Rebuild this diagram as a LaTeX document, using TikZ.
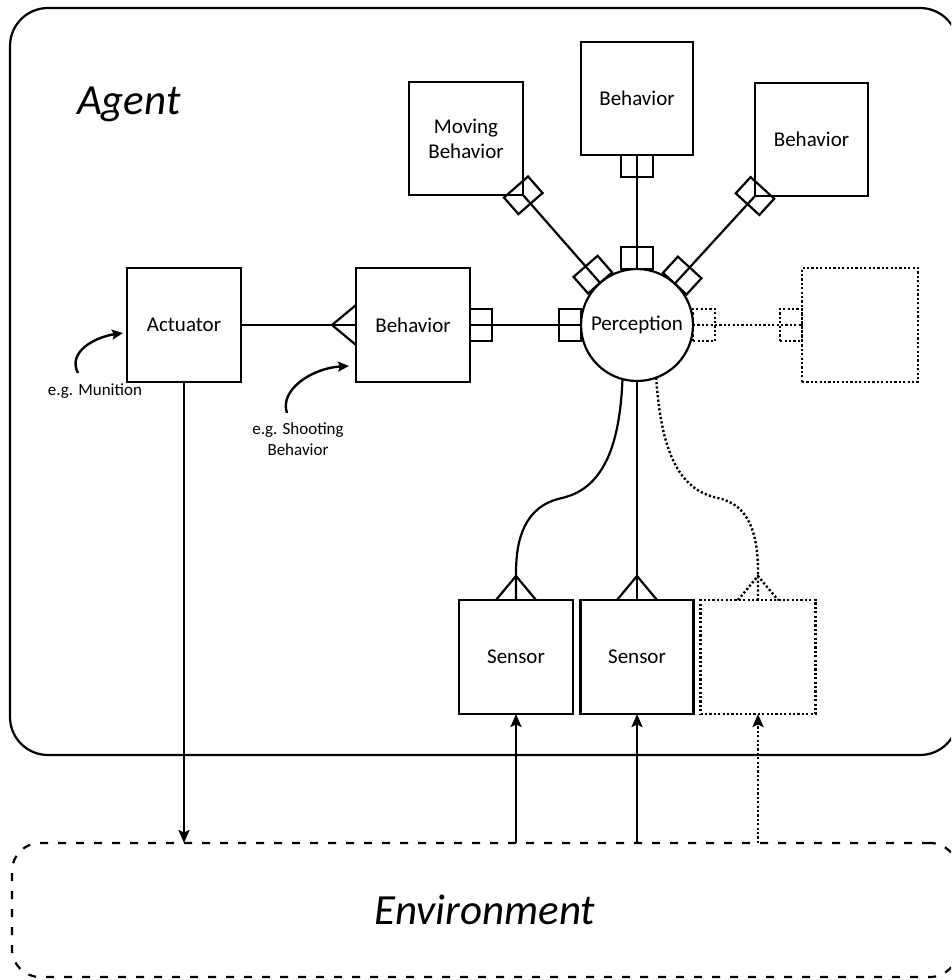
\documentclass[tikz,border=0pt]{standalone}
\usepackage{fontspec}
\setmainfont{Carlito}
\usetikzlibrary{arrows.meta,calc,decorations.markings}

\begin{document}
\begin{tikzpicture}[x=1pt,y=-1pt,
  every node/.style={inner sep=0pt, outer sep=0pt},
  wire/.style={line width=2.2pt},
  dots/.style={line width=2.4pt, dash pattern=on 2.2pt off 2.2pt},
  bodytext/.style={font=\fontsize{21}{25}\selectfont, align=center},
  notetext/.style={font=\fontsize{17}{21}\selectfont, align=center},
  bigtext/.style={font=\fontsize{43}{50}\selectfont\itshape},
  box/.style={draw, wire, bodytext, minimum width=114pt, minimum height=114pt},
  dotbox/.style={box, dots},
  hub/.style={draw, wire, bodytext, circle, minimum size=112pt},
  arr/.style={-{Stealth[length=13pt,width=11pt,inset=2.5pt]}},
  notearr/.style={line width=2.4pt, -{Stealth[length=11pt,width=10pt,inset=2pt]}},
  % connector end markers: a bar box across the line
  startbar/.style={postaction={decorate, decoration={markings,
      mark=at position 11pt with {\draw (-11pt,-16pt) rectangle (11pt,16pt);}}}},
  endbar/.style={postaction={decorate, decoration={markings,
      mark=at position -11pt with {\draw (-11pt,-16pt) rectangle (11pt,16pt);}}}},
  cornerbar/.style={postaction={decorate, decoration={markings,
      mark=at position 1 with {\draw (-11pt,-16pt) rectangle (11pt,16pt);}}}},
  crowfoot/.style={postaction={decorate, decoration={markings,
      mark=at position -24pt with {\draw (24pt,-20pt) -- (0pt,0pt) -- (24pt,20pt);}}}},
]
\useasboundingbox (0,0) rectangle (951,980);
\clip (0,0) rectangle (951,980);

% containers
\node[draw, wire, rounded corners=38pt, minimum width=948pt, minimum height=747pt] (agent) at (484,381.5) {};
\node[bigtext, anchor=base west] (agentlabel) at (77,114) {Agent};
\node[draw, line width=2.2pt, dash pattern=on 8pt off 10pt, rounded corners=28pt,
      minimum width=946pt, minimum height=134pt, bigtext] (env) at (485,910) {Environment};

% behaviours around the perception hub
\node[box, minimum height=113pt] (mb) at (466,138.5) {Moving\\Behavior};
\node[box, minimum width=112pt, minimum height=113pt] (tb) at (637,98.5) {Behavior};
\node[box, minimum width=113pt, minimum height=113pt] (rb) at (811.5,139.5) {Behavior};

\node[box] (act) at (184,325) {Actuator};
\node[box] (beh) at (413,325) {Behavior};
\node[hub] (perc) at (637,325) {Perception};
\node[dotbox, minimum width=116pt] (db) at (860,325) {};

% sensors
\node[box] (s1) at (516,657) {Sensor};
\node[box, minimum width=113pt] (s2) at (637,657) {Sensor};
\node[dotbox, minimum width=115pt] (s3) at (758,657) {};

% notes
\node[notetext] (mun) at (95,391) {e.g. Munition};
\node[notetext] (shoot) at (298,439) {e.g. Shooting\\Behavior};
\coordinate (munTail) at (78,373);
\coordinate (munHead) at (123,333);
\coordinate (shootTail) at (287,413);
\coordinate (shootHead) at (349,366);
\draw[notearr] (munTail) .. controls (67,352) and (95,337) .. (munHead);
\draw[notearr] (shootTail) .. controls (279,390) and (312,368) .. (shootHead);

% associations
\draw[wire, crowfoot] (act) -- (beh);
\draw[wire, startbar, endbar] (beh) -- (perc);
\draw[wire, startbar, cornerbar] (perc) -- (mb.south east);
\draw[wire, startbar, endbar] (perc) -- (tb);
\draw[wire, startbar, cornerbar] (perc) -- (rb.south west);
\draw[dots, startbar, endbar] (perc) -- (db);

\draw[wire, crowfoot] (perc.-105) .. controls (620,440) and (606,488) .. (562,498)
  .. controls (524,506) and (516,540) .. (516,573) -- (s1.north);
\draw[wire, crowfoot] (perc) -- (s2);
\draw[dots, crowfoot] (perc.-70) .. controls (661,450) and (678,490) .. (718,498)
  .. controls (750,505) and (758,535) .. (758,573) -- (s3.north);

% flows to and from the environment
\draw[wire, arr] (act) -- (act |- env.north);
\draw[wire, arr] (s1 |- env.north) -- (s1);
\draw[wire, arr] (s2 |- env.north) -- (s2);
\draw[dots, arr] (s3 |- env.north) -- (s3);
\end{tikzpicture}
\end{document}
